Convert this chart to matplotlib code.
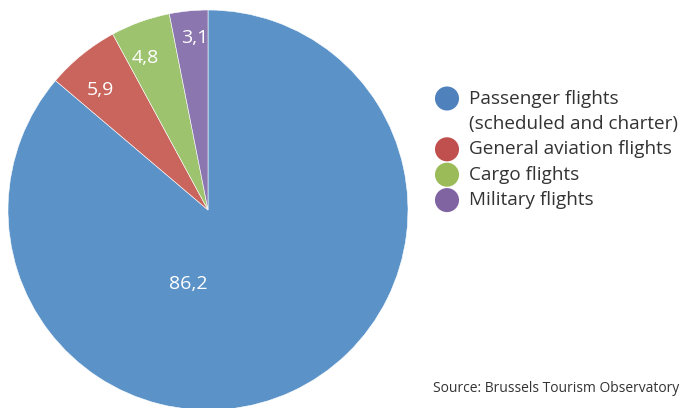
import matplotlib.pyplot as plt

# share of flights (%)
categories = ["Passenger flights\n(scheduled and charter)", "General aviation flights",
              "Cargo flights", "Military flights"]
values = [86.2, 5.9, 4.8, 3.1]
labels = ["86,2", "5,9", "4,8", "3,1"]
pie_colors = ["#5B93C9", "#C9655D", "#9DC36F", "#8B76B0"]
legend_colors = ["#4F81BD", "#C0504D", "#9BBB59", "#8064A2"]

plt.rcParams['font.family'] = ['Open Sans', 'DejaVu Sans']

fig = plt.figure(figsize=(6.81, 4.08), dpi=100)
W, H = 681, 408

# pie axes: centre ~(208, 210) px, radius ~200 px
ax = fig.add_axes([8 / W, (H - 410) / H, 400 / W, 400 / H])
wedges, texts, autotexts = ax.pie(values, colors=pie_colors, startangle=90,
                                  counterclock=False, autopct="%1.1f",
                                  pctdistance=0.83,
                                  wedgeprops=dict(edgecolor="white", linewidth=0.4),
                                  textprops=dict(color="white", fontsize=14))
# label placement as in the original (in pie radius units)
label_pos = [(-0.10, -0.37), (-0.54, 0.60), (-0.315, 0.76), (-0.065, 0.86)]
for t, lab, pos in zip(autotexts, labels, label_pos):
    t.set_text(lab)
    t.set_position(pos)
ax.set_xlim(-1, 1)
ax.set_ylim(-1, 1)
ax.set_aspect("equal")

# legend drawn by hand so the marker lines up with the first text line
lax = fig.add_axes([0, 0, 1, 1])
lax.set_xlim(0, W)
lax.set_ylim(H, 0)
lax.axis("off")
y = 98.5
for cat, col in zip(categories, legend_colors):
    lax.scatter(447, y, s=300, color=col, edgecolors="none")
    for line in cat.split("\n"):
        lax.text(469, y, line, fontsize=13.6, color="#333333", va="center")
        y += 25.4

fig.text(679 / W, 1 - 388 / H, "Source: Brussels Tourism Observatory",
         fontsize=10, color="#333333", ha="right", va="center")

fig.savefig("out.png", dpi=100)
